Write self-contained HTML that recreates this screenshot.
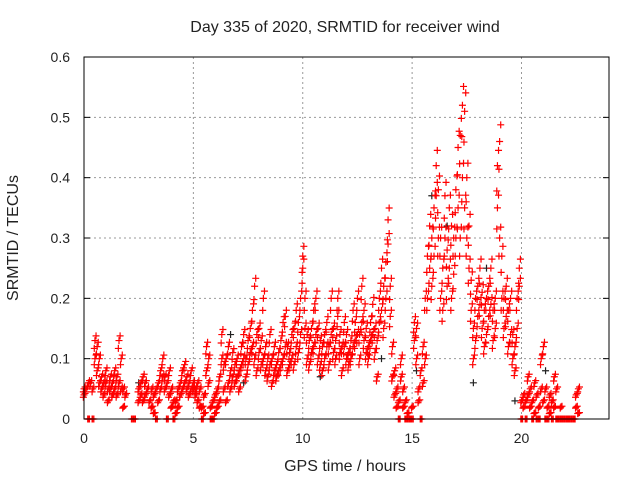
<!DOCTYPE html>
<html><head><meta charset="utf-8"><style>
body{margin:0;background:#fff}
svg text{font-family:"Liberation Sans",sans-serif;fill:#222}
</style></head><body>
<svg id="c" width="640" height="480">
<text x="345" y="32" font-size="16" text-anchor="middle">Day 335 of 2020, SRMTID for receiver wind</text>
<text x="345" y="471" font-size="16" text-anchor="middle">GPS time / hours</text>
<text x="18" y="238" font-size="16" text-anchor="middle" transform="rotate(-90 18 238)">SRMTID / TECUs</text>
<g id="grid"></g><g id="marks"></g>
<rect x="84" y="57" width="525" height="362" fill="none" stroke="#000" stroke-width="1"/>
</svg>
<script>
const xTicks=[0,5,10,15,20];
const yTicks=[0,0.1,0.2,0.3,0.4,0.5,0.6];
const yTickLabels=["0","0.1","0.2","0.3","0.4","0.5","0.6"];
const redT=[0,0.1,0.2,0.3,0.4,0.5,0.6,0.7,0.8,0.9,1.0,1.1,1.2,1.3,1.4,1.5,1.6,1.7,1.8,1.9,2.2,2.3,2.5,2.6,2.7,2.8,2.9,3.0,3.1,3.2,3.3,3.4,3.5,3.6,3.7,3.8,3.9,4.0,4.1,4.2,4.3,4.4,4.5,4.6,4.7,4.8,4.9,5.0,5.1,5.2,5.3,5.4,5.5,5.6,5.7,5.8,5.9,6.0,6.1,6.2,6.3,6.4,6.5,6.6,6.7,6.8,6.9,7.0,7.1,7.2,7.3,7.4,7.5,7.6,7.7,7.8,7.9,8.0,8.1,8.2,8.3,8.4,8.5,8.6,8.7,8.8,8.9,9.0,9.1,9.2,9.3,9.4,9.5,9.6,9.7,9.8,9.9,10.0,10.1,10.2,10.3,10.4,10.5,10.6,10.7,10.8,10.9,11.0,11.1,11.2,11.3,11.4,11.5,11.6,11.7,11.8,11.9,12.0,12.1,12.2,12.3,12.4,12.5,12.6,12.7,12.8,12.9,13.0,13.1,13.2,13.3,13.4,13.5,13.6,13.7,13.8,13.9,14.0,14.1,14.2,14.3,14.4,14.5,14.6,14.7,14.8,14.9,15.0,15.1,15.2,15.3,15.4,15.5,15.6,15.7,15.8,15.9,16.0,16.1,16.2,16.3,16.4,16.5,16.6,16.7,16.8,16.9,17.0,17.1,17.2,17.3,17.4,17.5,17.6,17.7,17.8,17.9,18.0,18.1,18.2,18.3,18.4,18.5,18.6,18.7,18.8,18.9,19.0,19.1,19.2,19.3,19.4,19.5,19.6,19.7,19.8,19.9,20.0,20.1,20.2,20.3,20.4,20.5,20.6,20.7,20.8,20.9,21.0,21.1,21.2,21.3,21.4,21.5,21.6,21.7,21.8,21.9,22.0,22.1,22.2,22.3,22.4,22.5,22.6];
const redV=[[.05,.04],[.05],[0,.06],[.06],[0,.05],[.13,.1],[.12,.08],[.1,.06],[.07,.05],[.06,.04],[.06,.08],[.05,.03],[.07,.05],[.06,.04],[.08,.05],[.07,.04],[.13,.06],[.1,.05],[.05,.02],[.04],[0],[0],[.05,.03],[.06,.04],[.07,.03],[.06,.04],[.05],[.03],[.05,.02],[.04,.01],[0,.05],[.06,.03],[.08,.05],[.1,.07],[.07,.05],[0,.06],[.08,.04],[.05,.02],[0,.03],[.03,.01],[.05,.02],[.06,.04],[.08,.05],[.09,.06],[.07,.05],[.06,.04],[.08,.05],[.06,.05],[.05,.04],[.06,.03],[.05,.02],[0,.02],[.04,.01],[.12,.08],[.1,.06],[.02,0],[.03,0],[.04,.01],[.05,.02],[.03,.07],[.14,.1],[.09,.05],[.1,.03],[.12,.06],[.08,.05],[.07,.11],[.09,.06],[.1,.07],[.08,.05],[.12,.09],[.14,.1],[.1,.07],[.13,.09],[.15,.11],[.18,.12],[.22,.1],[.14,.08],[.15,.11],[.13,.09],[.2,.1],[.12,.08],[.1,.07],[.14,.09],[.1,.06],[.12,.08],[.09,.07],[.11,.08],[.13,.09],[.16,.1],[.17,.12],[.12,.08],[.11,.09],[.14,.1],[.15,.09],[.18,.12],[.16,.11],[.2,.14],[.27,.25],[.2,.15],[.14,.1],[.13,.09],[.15,.11],[.18,.12],[.2,.14],[.15,.1],[.13,.09],[.12,.08],[.14,.1],[.16,.12],[.12,.09],[.2,.14],[.15,.11],[.13,.1],[.2,.17],[.14,.11],[.12,.08],[.16,.12],[.14,.1],[.11,.09],[.13,.1],[.18,.12],[.16,.13],[.2,.14],[.14,.1],[.22,.16],[.18,.13],[.15,.11],[.12,.1],[.16,.13],[.19,.14],[.15,.11],[.13,.07],[.2,.16],[.25,.18],[.22,.15],[.26,.2],[.33,.29],[.22,.17],[.12,.07],[.08,.04],[.05,.02],[.03,0],[.1,.07],[.05,.02],[0,.03],[0,.01],[0],[0,.02],[.16,.13],[.15,.1],[.05,.03],[.08,0],[.12,.06],[.2,.1],[.27,.2],[.32,.25],[.3,.22],[.35,.27],[.42,.37],[.38,.3],[.3,.2],[.25,.18],[.37,.3],[.28,.22],[.35,.25],[.32,.2],[.3,.24],[.38,.3],[.45,.35],[.47,.3],[.52,.4],[.51,.35],[.4,.3],[.32,.25],[.23,.18],[.15,.1],[.2,.13],[.22,.17],[.25,.19],[.21,.15],[.18,.12],[.2,.14],[.22,.17],[.25,.19],[.18,.13],[.2,.15],[.42,.35],[.46,.3],[.27,.2],[.2,.15],[.22,.17],[.18,.12],[.2,.14],[.14,.1],[.12,.08],[.2,.15],[.25,.22],[.03,0],[.04,.02],[.03,0],[.07,.04],[.05,.02],[.03,0],[.06,.01],[.04,0],[.02,0],[.1,.05],[.12,.03],[.05,0],[.02,0],[.04,.01],[.03,0],[.07,.02],[.05,0],[0],[.02,0],[0],[0],[0],[0],[0],[0],[.04,.02],[.05,.01]];
const blackT=[0.3,2.5,6.7,7.3,10.8,13.6,15.2,15.9,16.6,17.8,18.4,19.7,21.1];
const blackV=[.06,.06,.14,.06,.07,.1,.08,.37,.32,.06,.25,.03,.08];
const X=t=>84+t*21.875, Y=v=>419-v*603.3;
const NS='http://www.w3.org/2000/svg';
const grid=document.getElementById('grid'), marks=document.getElementById('marks');
function el(tag,attrs,parent){const e=document.createElementNS(NS,tag);for(const k in attrs)e.setAttribute(k,attrs[k]);parent.appendChild(e);return e;}
xTicks.forEach(t=>{
  const x=X(t);
  if(t>0){const l=el('line',{x1:x,x2:x,y1:57,y2:419,stroke:'#999','stroke-dasharray':'2,3'},grid);
  
  }
  const tx=el('text',{x:x,y:443,'font-size':14,'text-anchor':'middle'},grid);tx.textContent=t;
  
  
});
yTicks.forEach((v,i)=>{
  const y=Y(v);
  if(v>0&&v<0.6){const l=el('line',{x1:84,x2:609,y1:y,y2:y,stroke:'#999','stroke-dasharray':'2,3'},grid);
  
  }
  el('line',{x1:84,x2:90,y1:y,y2:y,stroke:'#000'},grid);
  el('line',{x1:603,x2:609,y1:y,y2:y,stroke:'#000'},grid);
  const tx=el('text',{x:70,y:y+5,'font-size':14,'text-anchor':'end'},grid);tx.textContent=yTickLabels[i];
  
  
});
function plus(t,v,color,name){
  const x=X(t),y=Y(v);
  const p=el('path',{d:`M${x-3.5},${y}h7M${x},${y-3.5}v7`,stroke:color,'stroke-width':1.2,fill:'none'},marks);
  
  
}
blackT.forEach((t,i)=>plus(t,blackV[i],'#222','black-point'));
redT.forEach((t,i)=>{redV[i].forEach(v=>{plus(t,v,'#f00','red-point');plus(t+0.05,v*1.06,'#f00','red-point');plus(t-0.03,v*0.9,'#f00','red-point');});});
</script>
</body></html>
